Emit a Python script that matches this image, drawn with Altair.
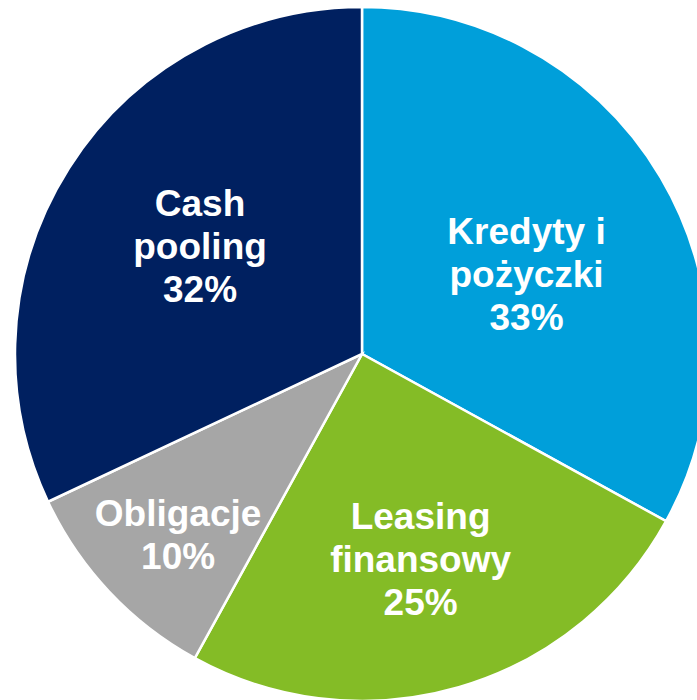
import altair as alt
import pandas as pd

categories = ["Kredyty i pożyczki", "Leasing finansowy", "Obligacje", "Cash pooling"]
labels = ["Kredyty i\npożyczki\n33%", "Leasing\nfinansowy\n25%", "Obligacje\n10%", "Cash\npooling\n32%"]
values = [33, 25, 10, 32]
colors = ["#009FDA", "#84BC26", "#A6A6A6", "#002060"]

df = pd.DataFrame({"category": categories, "label": labels, "value": values,
                   "order": list(range(len(values)))})

CX, CY, R = 362, 354, 347

base = alt.Chart(df).encode(
    theta=alt.Theta("value:Q", stack=True),
    order=alt.Order("order:Q"),
)

arcs = base.mark_arc(outerRadius=R, stroke="white", strokeWidth=2.5).encode(
    color=alt.Color("category:N", scale=alt.Scale(domain=categories, range=colors), legend=None),
    x=alt.value(CX), y=alt.value(CY),
)

text_style = dict(font="Liberation Sans", fontWeight="bold", fontSize=37, color="white",
                  lineBreak="\n", lineHeight=43, align="center", baseline="middle")

# label placement (radius, dx, dy) per slice
placement = {
    "Kredyty i pożyczki": (190, 1, -24),
    "Leasing finansowy": (210, 0, -38),
    "Obligacje": (255, 2, -14),
    "Cash pooling": (193, 1, -46),
}

layers = [arcs]
for cat in categories:
    r, dx, dy = placement[cat]
    layers.append(
        base.mark_text(radius=r, dx=dx, dy=dy, **text_style).encode(
            text=alt.condition(alt.datum.category == cat, "label:N", alt.value("")),
            x=alt.value(CX), y=alt.value(CY),
        )
    )

chart = alt.layer(*layers).properties(
    width=697, height=700,
    autosize=alt.AutoSizeParams(type="none"),
    padding=0,
).configure_view(stroke=None)

chart.save("out.html", embed_options={"renderer": "svg", "actions": False})
